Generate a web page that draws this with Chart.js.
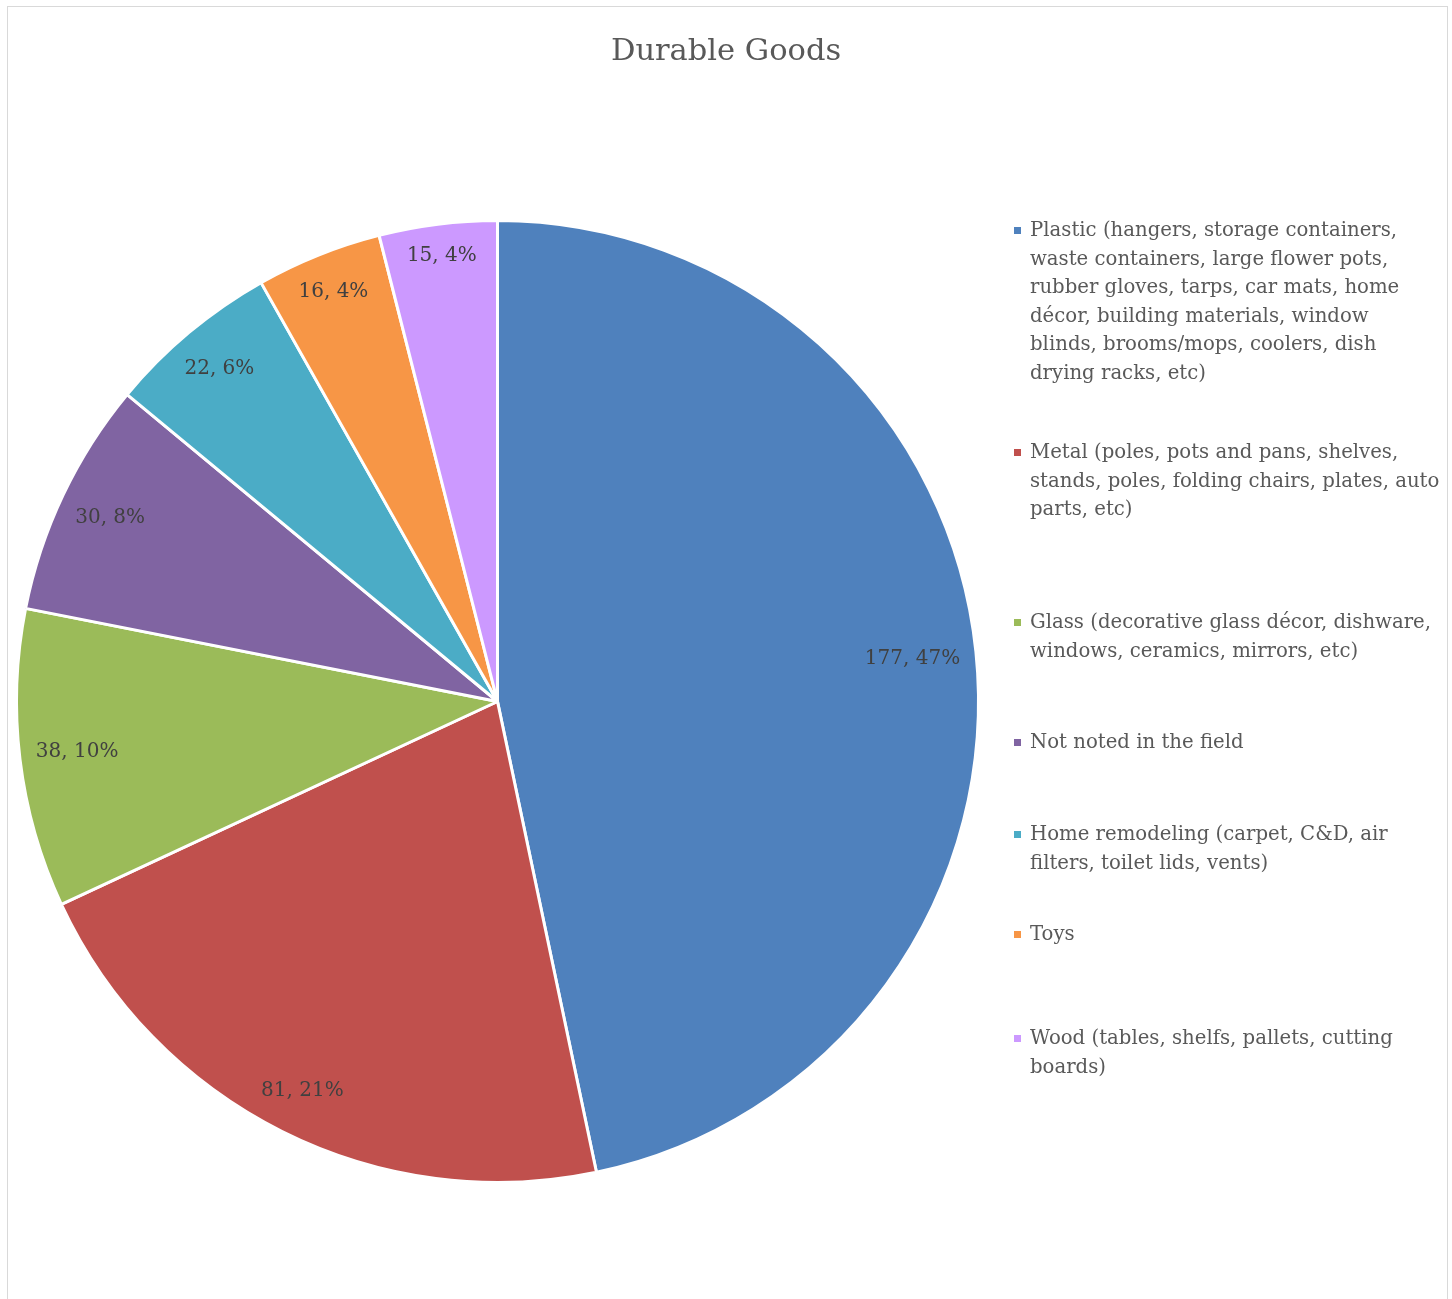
<!DOCTYPE html>
<html>
<head>
<meta charset="utf-8">
<script src="https://cdn.jsdelivr.net/npm/chart.js@4/dist/chart.umd.min.js"></script>
<style>
  html, body { margin: 0; padding: 0; background: #fff; overflow: hidden; }
  #wrap { position: relative; width: 1452px; height: 1299px; }
  #frame { position: absolute; left: 7px; top: 6px; width: 1439px; height: 1320px; border: 1px solid #d9d9d9; }
  #title { position: absolute; left: 0; top: 30px; width: 1452px; text-align: center;
           font: 30.5px/40px "DejaVu Serif", serif; color: #595959; }
  canvas { position: absolute; left: 0; top: 0; }
  .item { position: absolute; left: 1030px; font: 19.7px/28.5px "DejaVu Serif", serif; color: #595959; white-space: nowrap; }
  .mark { position: absolute; left: -16px; top: 11px; width: 7px; height: 7px; }
</style>
</head>
<body>
<div id="wrap">
  <div id="frame"></div>
  <canvas id="pie" width="1452" height="1299"></canvas>
  <div id="title">Durable Goods</div>
  <div id="legend"></div>
</div>
<script>
// ---- datos ----
const categories = [
  ['Plastic (hangers, storage containers,', 'waste containers, large flower pots,', 'rubber gloves, tarps, car mats, home', 'décor, building materials, window', 'blinds, brooms/mops, coolers, dish', 'drying racks, etc)'],
  ['Metal (poles, pots and pans, shelves,', 'stands, poles, folding chairs, plates, auto', 'parts, etc)'],
  ['Glass (decorative glass décor, dishware,', 'windows, ceramics, mirrors, etc)'],
  ['Not noted in the field'],
  ['Home remodeling (carpet, C&D, air', 'filters, toilet lids, vents)'],
  ['Toys'],
  ['Wood (tables, shelfs, pallets, cutting', 'boards)']
];
const values = [177, 81, 38, 30, 22, 16, 15];
const colors = ['#4F81BD', '#C0504D', '#9BBB59', '#8064A2', '#4BACC6', '#F79646', '#CC99FF'];

// posiciones verticales de la leyenda (layout)
const legendTops = [216, 438, 608, 728, 820, 920, 1024];

const total = values.reduce((a, b) => a + b, 0);

// leyenda html
const legendEl = document.getElementById('legend');
categories.forEach((lines, i) => {
  const div = document.createElement('div');
  div.className = 'item';
  div.style.top = legendTops[i] + 'px';
  const mark = document.createElement('span');
  mark.className = 'mark';
  mark.style.background = colors[i];
  div.appendChild(mark);
  lines.forEach((t, j) => {
    if (j > 0) div.appendChild(document.createElement('br'));
    div.appendChild(document.createTextNode(t));
  });
  legendEl.appendChild(div);
});

// etiquetas "valor, %" dentro de cada porción, pegadas al borde
const sliceLabels = {
  id: 'sliceLabels',
  afterDatasetsDraw(chart) {
    const ctx = chart.ctx;
    const meta = chart.getDatasetMeta(0);
    ctx.save();
    ctx.font = '20px "DejaVu Serif", serif';
    ctx.fillStyle = '#404040';
    ctx.textAlign = 'center';
    ctx.textBaseline = 'middle';
    meta.data.forEach((arc, i) => {
      const p = arc.getProps(['x', 'y', 'startAngle', 'endAngle', 'outerRadius']);
      const txt = values[i] + ', ' + Math.round(values[i] / total * 100) + '%';
      const mid = (p.startAngle + p.endAngle) / 2;
      const cx = Math.cos(mid), cy = Math.sin(mid);
      const halfW = ctx.measureText(txt).width / 2, halfH = 13;
      const d = p.outerRadius - 15 - (Math.abs(cx) * halfW + Math.abs(cy) * halfH);
      ctx.fillText(txt, p.x + cx * d, p.y + cy * d);
    });
    ctx.restore();
  }
};

new Chart(document.getElementById('pie'), {
  type: 'pie',
  data: {
    labels: categories.map(l => l.join(' ')),
    datasets: [{
      data: values,
      backgroundColor: colors,
      borderColor: '#ffffff',
      borderWidth: 3
    }]
  },
  options: {
    responsive: false,
    animation: false,
    devicePixelRatio: 1,
    layout: { padding: { left: 15, right: 472, top: 219, bottom: 115 } },
    plugins: {
      legend: { display: false },
      tooltip: { enabled: false }
    }
  },
  plugins: [sliceLabels]
});
</script>
</body>
</html>
